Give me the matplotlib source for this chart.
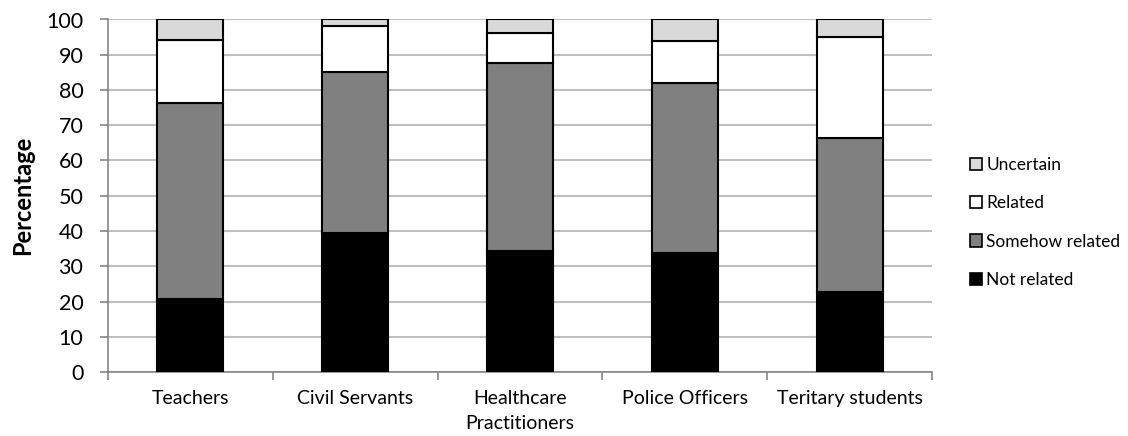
import matplotlib
matplotlib.use("Agg")
import matplotlib.pyplot as plt
import numpy as np

categories = ["Teachers", "Civil Servants", "Healthcare\nPractitioners",
              "Police Officers", "Teritary students"]
not_related = [20.6, 39.5, 34.3, 33.9, 22.7]
somehow_related = [55.6, 45.6, 53.4, 48.2, 43.7]
related = [18.0, 13.0, 8.6, 11.9, 28.7]
uncertain = [5.8, 1.9, 3.7, 6.0, 4.9]

series_names = ["Not related", "Somehow related", "Related", "Uncertain"]
series_values = [not_related, somehow_related, related, uncertain]
series_colors = ["#000000", "#808080", "#FFFFFF", "#D9D9D9"]
y_ticks = list(range(0, 101, 10))

plt.rcParams["font.family"] = ["Lato", "DejaVu Sans"]

W, H = 1128, 436
fig = plt.figure(figsize=(W / 100, H / 100), dpi=100)
ax = fig.add_axes([108 / W, 1 - 372 / H, (932 - 108) / W, (372 - 19.5) / H])

x = np.arange(len(categories))
bottom = np.zeros(len(categories))
handles = []
for name, vals, col in zip(series_names, series_values, series_colors):
    h = ax.bar(x, vals, width=0.4, bottom=bottom, color=col,
               edgecolor="black", linewidth=1.5, label=name, zorder=3)
    handles.append(h)
    bottom += np.array(vals)

ax.set_xlim(-0.5, len(categories) - 0.5)
ax.set_ylim(0, 100)
ax.set_yticks(y_ticks)
ax.tick_params(axis="y", labelsize=15.5, length=5.8, width=1.2,
               color="#868686", pad=12)

# category labels centred, tick marks on the category boundaries
ax.set_xticks(x)
ax.set_xticklabels(categories, fontsize=14, linespacing=1.55)
ax.tick_params(axis="x", which="major", length=0, pad=13)
ax.set_xticks(np.arange(-0.5, len(categories) + 0.5, 1.0), minor=True)
ax.tick_params(axis="x", which="minor", length=5.8, width=1.2,
               color="#868686")

ax.grid(axis="y", color="#BFBFBF", linewidth=1.5, zorder=0)
ax.set_axisbelow(True)
for side in ["top", "right"]:
    ax.spines[side].set_visible(False)
for side in ["left", "bottom"]:
    ax.spines[side].set_color("#868686")
    ax.spines[side].set_linewidth(1.2)

ax.set_ylabel("Percentage", fontsize=17, fontweight="bold", labelpad=9)

leg = fig.legend(handles[::-1], series_names[::-1], loc="center left",
                 bbox_to_anchor=(970 / W, 1 - 222.5 / H), frameon=False,
                 fontsize=12.5, borderpad=0, borderaxespad=0,
                 handlelength=0.7, handleheight=0.7, handletextpad=0.25,
                 labelspacing=1.28)
for p in leg.get_patches():
    p.set_linewidth(1.2)

fig.savefig("out.png", dpi=100)
